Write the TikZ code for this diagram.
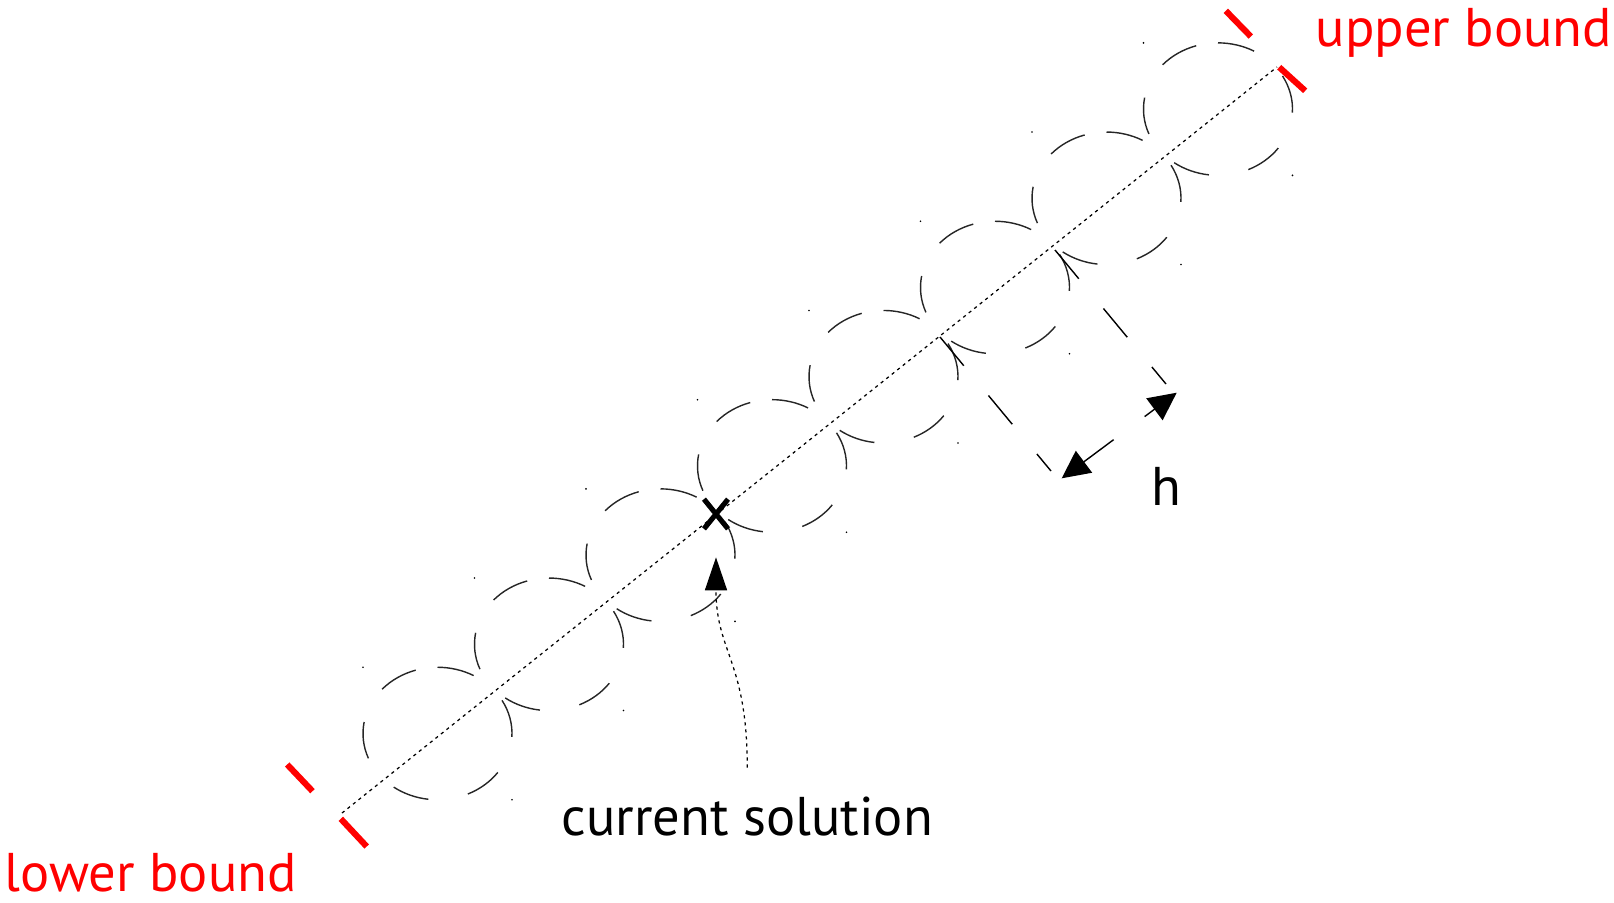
\documentclass[tikz,border=0pt]{standalone}
\usepackage{fontspec}
\setmainfont{PT Sans}
\usepackage{xcolor}
\usepackage{tikz}
\usetikzlibrary{arrows.meta, shapes.misc, calc}
\definecolor{boundred}{RGB}{255, 0, 0}

\tikzset{
  guide/.style={line width=0.35pt, dash pattern=on 0.9pt off 1.1pt},
  ring/.style={line width=0.4pt, black!85},
  boundtick/.style={boundred, line width=1.75pt},
  extline/.style={line width=0.4pt, dash pattern=on 10.6pt off 11pt},
  lbl/.style={font=\fontsize{15.5}{18}\selectfont, inner sep=0pt, anchor=base west},
}

\begin{document}
\begin{tikzpicture}[x=0.01cm, y=-0.01cm]
  \useasboundingbox (0,0) rectangle (1614,902);
  \def\rx{74.5}
  \def\ry{66.25}

  % search line between the two bounds
  \coordinate (lo) at (342,813);
  \coordinate (up) at (1277,67);
  \draw[guide] (lo) -- (up);

  % neighbourhood rings along the line
  \foreach \k in {0,...,7} {
    \coordinate (c\k) at (437.5+111.5*\k, 733.5-89.2*\k);
    \foreach \a/\b in {3/-30, -61/-90, -107/-138, -170/-202, -234/-263, -294/-324}
      \draw[ring] ($(c\k)+(\a:{\rx} and {\ry})$) arc[start angle=\a, end angle=\b, x radius=\rx, y radius=\ry];
    \fill ($(c\k)+(-\rx,-\ry)$) circle[radius=0.9];
    \fill ($(c\k)+(\rx,\ry)$) circle[radius=0.9];
  }

  % bound marks
  \draw[boundtick] (287.2,764.5) -- (312.5,791.2);
  \draw[boundtick] (340.8,818.8) -- (366.7,846.5);
  \draw[boundtick] (1225.8,10.8) -- (1250.8,36.5);
  \draw[boundtick] (1279.2,67.2) -- (1305.2,90.8);

  \node[lbl, text=boundred] (ub) at (1315,46) {upper bound};
  \node[lbl, text=boundred] (lb) at (4,891) {lower bound};
  \node[lbl] (cursol) at (561,835) {current solution};
  \node[lbl] (hlbl) at (1151,505) {h};

  % current solution
  \node[cross out, draw, line width=1.45pt, minimum width=5.4pt, minimum height=7pt, inner sep=0pt] (cur) at (716,514) {};
  \draw[guide, -{Triangle[length=9.4pt, width=6.3pt]}, shorten <=8pt, shorten >=8.1pt]
    (cursol.north) .. controls +(0,-135) and +(0,123.5) .. (cur.south);

  % step width h
  \coordinate (e1) at (940,337);
  \coordinate (e2) at (1055,250);
  \coordinate (ha) at (1061.7,478.3);
  \coordinate (hb) at (1176.7,392.7);
  \draw[extline] (e1) -- ++(111,134);
  \draw[extline] (e2) -- ++(111,134);
  \draw[extline, {Triangle[length=7.9pt, width=7.7pt]}-{Triangle[length=7.9pt, width=7.7pt]}] (ha) -- (hb);
\end{tikzpicture}
\end{document}
